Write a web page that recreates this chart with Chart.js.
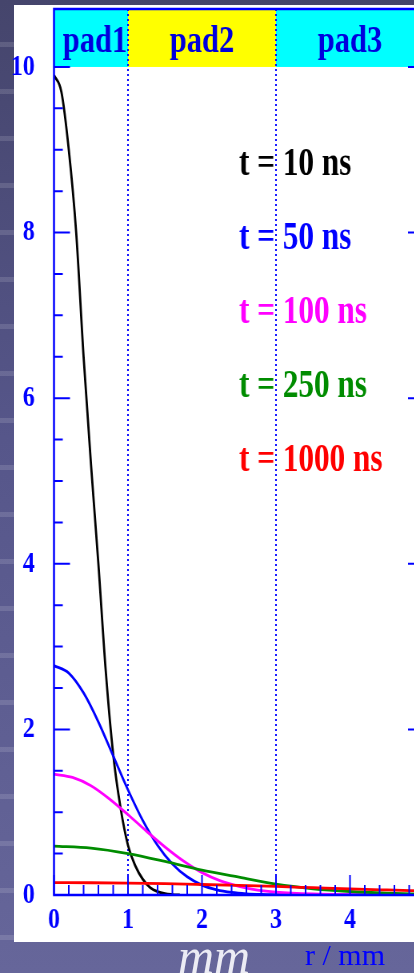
<!DOCTYPE html>
<html>
<head>
<meta charset="utf-8">
<script src="https://cdn.jsdelivr.net/npm/chart.js@4.4.1/dist/chart.umd.min.js"></script>
<style>
html, body { margin: 0; padding: 0; width: 414px; height: 973px; overflow: hidden; }
body { position: relative; background: linear-gradient(#45456c, #56568a 45%, #66669a); }
#stripes { position: absolute; left: 0; top: 0; width: 14px; height: 973px;
  background: repeating-linear-gradient(180deg, rgba(255,255,255,0) 0 42px, rgba(255,255,255,0.13) 42px 47px); }
#paper { position: absolute; left: 14px; top: 5px; width: 400px; height: 937px; background: #fff; }
#wrap { position: absolute; left: 0; top: 0; width: 538px; height: 973px; transform: scaleX(0.8); transform-origin: 0 0; }
#mm { position: absolute; left: 178px; top: 931px; font: italic 50px/50px 'Liberation Serif', serif; color: #ececf4; white-space: nowrap; }
#rmm { position: absolute; left: 305px; top: 940px; font: 30px/30px 'Liberation Serif', serif; color: #0000ff; white-space: nowrap; }
</style>
</head>
<body>
<div id="stripes"></div>
<div id="paper"></div>
<div id="wrap"><canvas id="c"></canvas></div>
<div id="mm">mm</div>
<div id="rmm">r / mm</div>
<script>
// tick labels
const xTickValues = [0, 1, 2, 3, 4, 5];
const yTickValues = [0, 2, 4, 6, 8, 10];

// pad regions (r in mm)
const padNames = ['pad1', 'pad2', 'pad3'];
const padEdges = [0, 1, 3, 5];

// charge density vs r
const seriesLabels = ['t = 10 ns', 't = 50 ns', 't = 100 ns', 't = 250 ns', 't = 1000 ns'];
const r10 = [0, 0.1, 0.2, 0.3, 0.4, 0.5, 0.6, 0.7, 0.8, 0.9, 1.0, 1.1, 1.2, 1.3, 1.4, 1.5, 1.6, 1.7];
const v10 = [9.9, 9.7, 9.0, 8.0, 6.5, 5.2, 4.0, 2.7, 1.7, 1.05, 0.6, 0.35, 0.19, 0.09, 0.04, 0.015, 0.005, 0];
const r50 = [0, 0.2, 0.4, 0.6, 0.8, 1.0, 1.2, 1.4, 1.6, 1.8, 2.0, 2.2, 2.4, 2.6, 2.8, 3.0, 3.5, 4, 5];
const v50 = [2.77, 2.68, 2.44, 2.09, 1.68, 1.27, 0.90, 0.60, 0.375, 0.22, 0.12, 0.063, 0.031, 0.014, 0.006, 0.003, 0.001, 0, 0];
const r100 = [0, 0.25, 0.5, 0.75, 1.0, 1.25, 1.5, 1.75, 2.0, 2.25, 2.5, 2.75, 3.0, 3.5, 4, 5];
const v100 = [1.46, 1.42, 1.32, 1.16, 0.97, 0.77, 0.58, 0.41, 0.27, 0.17, 0.105, 0.06, 0.035, 0.012, 0.004, 0];
const r250 = [0, 0.5, 1.0, 1.5, 2.0, 2.5, 3.0, 3.5, 4.0, 4.5, 5.0];
const v250 = [0.59, 0.566, 0.50, 0.405, 0.30, 0.215, 0.13, 0.075, 0.042, 0.022, 0.01];
const r1000 = [0, 0.5, 1.0, 1.5, 2.0, 2.5, 3.0, 3.5, 4.0, 4.5, 5.0];
const v1000 = [0.150, 0.148, 0.144, 0.137, 0.127, 0.116, 0.103, 0.088, 0.073, 0.061, 0.050];

const BLUE = '#0000ff';
const lineColors = ['#000000', '#0000ff', '#ff00ff', '#008c00', '#ff0000'];
const padColors = ['#00ffff', '#ffff00', '#00ffff'];
const SERIF = "'Liberation Serif', 'Times New Roman', serif";

function pts(rs, vs) {
    return rs.map((r, i) => ({x: r, y: vs[i]}));
}

// no extra room for half-labels at the ends of the axes
function noPad(s) {
    s.paddingTop = s.paddingBottom = s.paddingLeft = s.paddingRight = 0;
}

const series = [[r10, v10], [r50, v50], [r100, v100], [r250, v250], [r1000, v1000]];

const decor = {
    id: 'decor',
    beforeDatasetsDraw(chart) {
        const {ctx, chartArea: a, scales: {x, y}} = chart;
        const y10 = y.getPixelForValue(10);
        ctx.save();
        padNames.forEach((name, i) => {
            const x0 = x.getPixelForValue(padEdges[i]);
            const x1 = x.getPixelForValue(padEdges[i + 1]);
            ctx.fillStyle = padColors[i];
            ctx.fillRect(x0, a.top, x1 - x0, y10 - a.top);
            ctx.fillStyle = '#0000dd';
            ctx.font = 'bold 38px ' + SERIF;
            ctx.textAlign = 'center';
            ctx.textBaseline = 'alphabetic';
            ctx.fillText(name, (x0 + x1) / 2 + (i === 0 ? 5 : 0), y10 - 15);
        });
        // dotted pad borders
        ctx.strokeStyle = BLUE;
        ctx.lineWidth = 2;
        ctx.setLineDash([2, 3]);
        padEdges.slice(1, -1).forEach(v => {
            const px = x.getPixelForValue(v);
            ctx.beginPath();
            ctx.moveTo(px, a.top);
            ctx.lineTo(px, a.bottom);
            ctx.stroke();
        });
        ctx.restore();
    },
    afterDatasetsDraw(chart) {
        const {ctx, chartArea: a, scales: {x, y}} = chart;
        ctx.save();
        ctx.strokeStyle = BLUE;
        ctx.lineWidth = 2;
        ctx.beginPath();
        // x ticks, every 0.2 mm, pointing up
        for (let i = 0; i <= 25; i++) {
            const px = x.getPixelForValue(i / 5);
            const len = i % 5 === 0 ? 20 : 10;
            ctx.moveTo(px, a.bottom);
            ctx.lineTo(px, a.bottom - len);
        }
        // y ticks every 0.5, both sides
        for (let i = 0; i <= 20; i++) {
            const py = y.getPixelForValue(i / 2);
            const len = i % 4 === 0 ? 20 : 11;
            ctx.moveTo(a.left, py);
            ctx.lineTo(a.left + len, py);
            ctx.moveTo(a.right, py);
            ctx.lineTo(a.right - len, py);
        }
        ctx.stroke();
        ctx.lineWidth = 2.5;
        ctx.strokeRect(a.left, a.top, a.right - a.left, a.bottom - a.top);

        // legend text
        const lx = x.getPixelForValue(2.5);
        let ly = y.getPixelForValue(8.7);
        ctx.font = 'bold 39px ' + SERIF;
        ctx.textAlign = 'left';
        ctx.textBaseline = 'alphabetic';
        chart.data.datasets.forEach(ds => {
            ctx.fillStyle = ds.borderColor;
            ctx.fillText(ds.label, lx, ly);
            ly += 74;
        });
        ctx.restore();
    }
};

new Chart(document.getElementById('c'), {
    type: 'line',
    data: {
        datasets: series.map((s, i) => ({
            label: seriesLabels[i],
            data: pts(s[0], s[1]),
            borderColor: lineColors[i],
            borderWidth: 2.8,
            pointRadius: 0,
            fill: false,
            cubicInterpolationMode: 'monotone',
            order: 5 - i
        }))
    },
    options: {
        responsive: true,
        maintainAspectRatio: false,
        animation: false,
        layout: {padding: {left: 0, right: 8, top: 9, bottom: 0}},
        plugins: {legend: {display: false}, tooltip: {enabled: false}},
        scales: {
            x: {
                type: 'linear',
                min: 0,
                max: 5,
                afterBuildTicks: s => { s.ticks = xTickValues.map(v => ({value: v})); },
                afterFit: s => { s.height = 78; noPad(s); },
                grid: {display: false, drawTicks: false},
                border: {display: false},
                ticks: {
                    color: BLUE,
                    padding: 7,
                    font: {family: SERIF, weight: 'bold', size: 30}
                }
            },
            y: {
                min: 0,
                max: 10.7,
                afterBuildTicks: s => { s.ticks = yTickValues.map(v => ({value: v})); },
                afterFit: s => { s.width = 67.5; noPad(s); },
                grid: {display: false, drawTicks: false},
                border: {display: false},
                ticks: {
                    color: BLUE,
                    padding: 24,
                    font: {family: SERIF, weight: 'bold', size: 30}
                }
            }
        }
    },
    plugins: [decor]
});
</script>
</body>
</html>
